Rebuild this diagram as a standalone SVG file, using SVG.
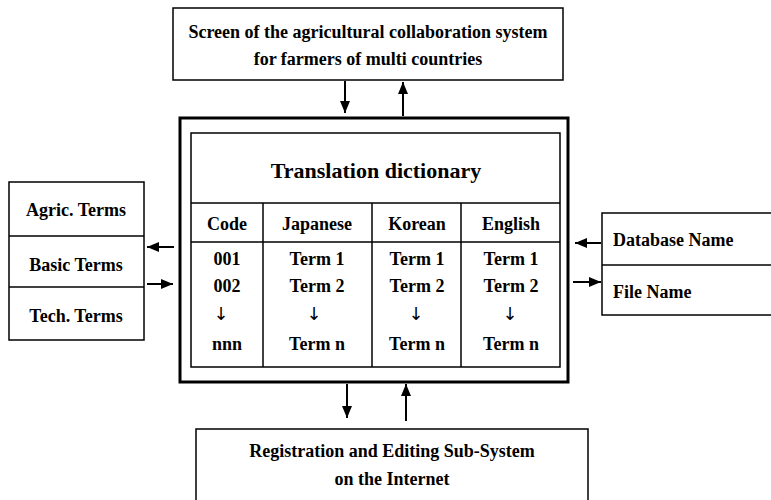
<svg xmlns="http://www.w3.org/2000/svg" width="771" height="500" viewBox="0 0 771 500">
<style>
text{font-family:"Liberation Serif","Times New Roman",serif;font-weight:bold;fill:#000}
.t{font-size:18px;text-anchor:middle}
.l{font-size:18px}
.big{font-size:22px;text-anchor:middle}
.ar{font-family:"DejaVu Sans","Liberation Sans",sans-serif;font-weight:normal;font-size:18px;text-anchor:middle}
.box{fill:#fff;stroke:#000;stroke-width:1.5}
.ln{stroke:#000;stroke-width:1.5;fill:none}
.c{stroke:#000;stroke-width:2;fill:none;marker-end:url(#ah)}
</style>
<defs>
<marker id="ah" markerWidth="12" markerHeight="10" refX="12" refY="5" orient="auto" markerUnits="userSpaceOnUse">
<path d="M0,0 L12,5 L0,10 Z" fill="#000"/>
</marker>
</defs>
<rect width="771" height="500" fill="#fff"/>
<g id="connectors">
<line class="c" x1="345" y1="81" x2="345" y2="113"/>
<line class="c" x1="403" y1="116" x2="403" y2="82"/>
<line class="c" x1="347" y1="384" x2="347" y2="418"/>
<line class="c" x1="406" y1="421" x2="406" y2="384"/>
<line class="c" x1="174" y1="247" x2="147" y2="247"/>
<line class="c" x1="147" y1="284" x2="173" y2="284"/>
<line class="c" x1="601" y1="243" x2="575" y2="243"/>
<line class="c" x1="573" y1="282" x2="601" y2="282"/>
</g>
<g id="screen">
<rect class="box" x="173" y="8" width="390" height="72"/>
<text class="t" x="368" y="38">Screen of the agricultural collaboration system</text>
<text class="t" x="368" y="65">for farmers of multi countries</text>
</g>
<g id="dictionary">
<rect x="180" y="118" width="388" height="264" fill="#fff" stroke="#000" stroke-width="3"/>
<rect class="box" x="191" y="133" width="369" height="234"/>
<line class="ln" x1="191" y1="203" x2="560" y2="203"/>
<line class="ln" x1="191" y1="242" x2="560" y2="242"/>
<line class="ln" x1="263" y1="203" x2="263" y2="367"/>
<line class="ln" x1="372" y1="203" x2="372" y2="367"/>
<line class="ln" x1="461" y1="203" x2="461" y2="367"/>
<text class="big" x="376" y="178">Translation dictionary</text>
<text class="t" x="227" y="230">Code</text>
<text class="t" x="317" y="230">Japanese</text>
<text class="t" x="417" y="230">Korean</text>
<text class="t" x="511" y="230">English</text>
<text class="t" x="227" y="265">001</text>
<text class="t" x="227" y="292">002</text>
<text class="ar" x="221" y="320">↓</text>
<text class="t" x="227" y="350">nnn</text>
<text class="t" x="317" y="265">Term 1</text>
<text class="t" x="317" y="292">Term 2</text>
<text class="ar" x="314" y="320">↓</text>
<text class="t" x="317" y="350">Term n</text>
<text class="t" x="417" y="265">Term 1</text>
<text class="t" x="417" y="292">Term 2</text>
<text class="ar" x="416" y="320">↓</text>
<text class="t" x="417" y="350">Term n</text>
<text class="t" x="511" y="265">Term 1</text>
<text class="t" x="511" y="292">Term 2</text>
<text class="ar" x="510" y="320">↓</text>
<text class="t" x="511" y="350">Term n</text>
</g>
<g id="terms">
<rect class="box" x="9" y="182" width="135" height="158"/>
<line class="ln" x1="9" y1="236" x2="144" y2="236"/>
<line class="ln" x1="9" y1="287" x2="144" y2="287"/>
<text class="t" x="76" y="216">Agric. Terms</text>
<text class="t" x="76" y="271">Basic Terms</text>
<text class="t" x="76" y="322">Tech. Terms</text>
</g>
<g id="names">
<rect class="box" x="602" y="213" width="180" height="102"/>
<line class="ln" x1="602" y1="265" x2="771" y2="265"/>
<text class="l" x="613" y="246">Database Name</text>
<text class="l" x="613" y="298">File Name</text>
</g>
<g id="registration">
<rect class="box" x="196" y="429" width="392" height="80"/>
<text class="t" x="392" y="457">Registration and Editing Sub-System</text>
<text class="t" x="392" y="485">on the Internet</text>
</g>
</svg>
